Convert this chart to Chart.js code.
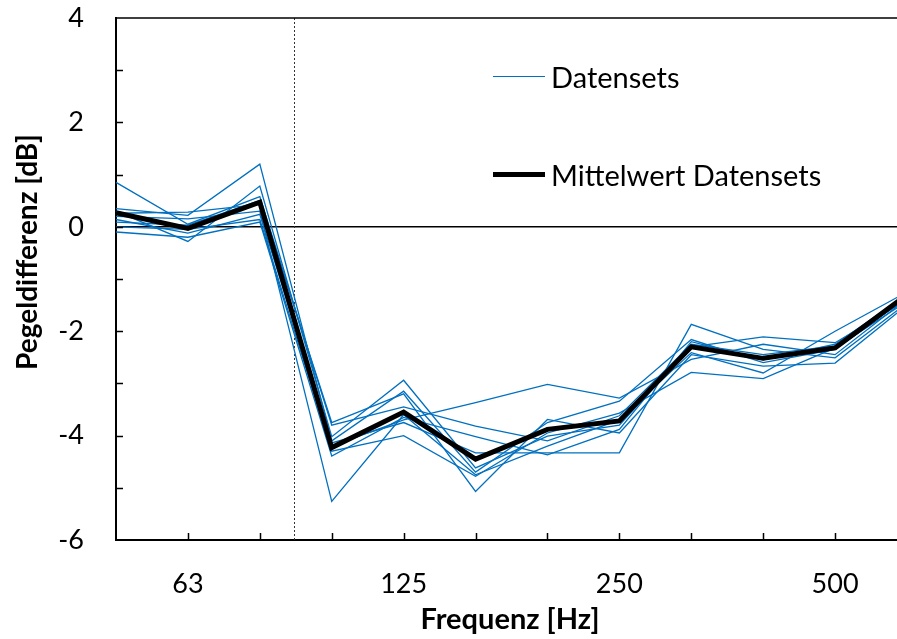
<!DOCTYPE html>
<html>
<head>
<meta charset="utf-8">
<script src="https://cdn.jsdelivr.net/npm/chart.js@4.4.1/dist/chart.umd.min.js"></script>
<style>
html, body { margin: 0; padding: 0; background: #fff; overflow: hidden; }
#wrap { position: relative; width: 897px; height: 639px; overflow: hidden; }
#wrap canvas { position: absolute; left: 0; top: 0; }
.leg { position: absolute; font-family: Lato, sans-serif; font-size: 29px; color: #000; white-space: nowrap; }
.leg span { display: inline-block; vertical-align: middle; }
</style>
</head>
<body>
<div id="wrap">
  <canvas id="chart" width="920" height="639"></canvas>
  <div class="leg" style="left:493px; top:55px;"><span style="width:52px;border-top:1.3px solid #0070C0;margin-right:6px;"></span><span>Datensets</span></div>
  <div class="leg" style="left:493px; top:153px;"><span style="width:52px;border-top:5px solid #000;margin-right:6px;"></span><span>Mittelwert Datensets</span></div>
</div>
<script>
// Terzbänder
var baender = ['50', '63', '80', '100', '125', '160', '200', '250', '315', '400', '500', '630'];
var beschriftet = ['63', '125', '250', '500'];

// einzelne Datensets (Pegeldifferenz in dB)
var set1 = [0.85, 0.05, 0.58, -3.80, -3.45, -3.82, -4.10, -3.62, -2.25, -2.45, -2.28, -1.33];
var set2 = [0.35, 0.22, 1.20, -4.10, -3.15, -4.70, -3.75, -3.34, -2.16, -2.60, -2.35, -1.36];
var set3 = [0.30, -0.28, 0.78, -4.02, -2.94, -4.62, -4.01, -3.80, -2.30, -2.11, -2.22, -1.40];
var set4 = [0.26, 0.28, 0.43, -4.20, -3.70, -3.37, -3.02, -3.28, -2.54, -2.25, -2.45, -1.38];
var set5 = [0.20, 0.15, 0.30, -5.26, -3.60, -4.75, -4.20, -3.70, -2.41, -2.80, -2.00, -1.25];
var set6 = [0.14, -0.12, 0.24, -4.14, -3.75, -4.33, -4.33, -4.33, -1.87, -2.35, -2.51, -1.46];
var set7 = [0.09, 0.03, 0.50, -3.75, -3.20, -5.07, -3.69, -3.95, -2.45, -2.67, -2.61, -1.50];
var set8 = [0.00, -0.05, 0.14, -4.30, -4.00, -4.78, -3.95, -3.57, -2.79, -2.91, -2.32, -1.43];
var set9 = [-0.10, -0.20, 0.09, -4.39, -3.65, -4.02, -4.37, -3.88, -2.20, -2.55, -2.25, -1.30];
var mittelwert = [0.27, -0.03, 0.47, -4.23, -3.55, -4.45, -3.88, -3.72, -2.30, -2.52, -2.32, -1.30];

// Lage der gestrichelten Linie (zwischen 80 und 100 Hz, in Bandindex)
var grenzeBand = 2.47;

var blau = '#0070C0';
var schrift = 'Lato, sans-serif';

var datasets = [{
    label: 'Mittelwert Datensets',
    data: mittelwert,
    borderColor: '#000',
    borderWidth: 5,
    pointRadius: 0,
    order: 0
}];
[set1, set2, set3, set4, set5, set6, set7, set8, set9].forEach(function (s, i) {
    datasets.push({
        label: 'Datenset ' + (i + 1),
        data: s,
        borderColor: blau,
        borderWidth: 1.3,
        pointRadius: 0,
        order: 1
    });
});

// Rahmen, innenliegende Striche, Achsentitel
var extras = {
    id: 'extras',
    beforeDatasetsDraw: function (chart) {
        var c = chart.ctx, a = chart.chartArea, x = chart.scales.x;
        var px = x.getPixelForValue(2) + (grenzeBand - 2) * (x.getPixelForValue(3) - x.getPixelForValue(2));
        c.save();
        c.strokeStyle = '#333';
        c.lineWidth = 1;
        c.setLineDash([2, 2]);
        c.beginPath();
        c.moveTo(Math.round(px) + 0.5, a.top);
        c.lineTo(Math.round(px) + 0.5, a.bottom);
        c.stroke();
        c.restore();
    },
    afterDraw: function (chart) {
        var c = chart.ctx, a = chart.chartArea, x = chart.scales.x, y = chart.scales.y;
        c.save();
        c.strokeStyle = '#000';
        c.lineWidth = 1.5;
        c.beginPath();
        c.moveTo(a.left, a.top);
        c.lineTo(a.right, a.top);
        c.lineTo(a.right, a.bottom);
        for (var v = -5; v <= 3; v++) {
            var py = Math.round(y.getPixelForValue(v)) + 0.5;
            c.moveTo(a.left, py);
            c.lineTo(a.left + 7, py);
        }
        for (var i = 1; i < baender.length; i++) {
            var px = Math.round(x.getPixelForValue(i)) + 0.5;
            c.moveTo(px, a.bottom);
            c.lineTo(px, a.bottom - 7);
        }
        c.stroke();

        c.fillStyle = '#000';
        c.font = 'bold 29px ' + schrift;
        c.textAlign = 'center';
        c.textBaseline = 'middle';
        c.fillText('Frequenz [Hz]', 510, 620);
        c.font = 'bold 28px ' + schrift;
        c.translate(28, 252);
        c.rotate(-Math.PI / 2);
        c.fillText('Pegeldifferenz [dB]', 0, 0);
        c.restore();
    }
};

new Chart(document.getElementById('chart'), {
    type: 'line',
    data: { labels: baender, datasets: datasets },
    options: {
        responsive: false,
        animation: false,
        layout: { padding: { top: 18, right: 13, left: 0, bottom: 0 } },
        plugins: { legend: { display: false }, tooltip: { enabled: false } },
        elements: { line: { tension: 0, borderCapStyle: 'butt', borderJoinStyle: 'miter' } },
        scales: {
            x: {
                offset: false,
                afterFit: function (s) { s.height = 99; s.paddingLeft = 0; s.paddingRight = 0; },
                grid: { display: false, drawTicks: false },
                border: { color: '#000', width: 2 },
                ticks: {
                    autoSkip: false,
                    maxRotation: 0,
                    padding: 28,
                    color: '#000',
                    font: { family: schrift, size: 27 },
                    callback: function (v) {
                        var l = baender[v];
                        return beschriftet.indexOf(l) >= 0 ? l : '';
                    }
                }
            },
            y: {
                min: -6,
                max: 4,
                afterFit: function (s) { s.width = 116; s.paddingTop = 0; s.paddingBottom = 0; },
                grid: {
                    drawTicks: false,
                    color: function (ctx) { return ctx.tick && ctx.tick.value === 0 ? '#000' : 'rgba(0,0,0,0)'; },
                    lineWidth: 1.5
                },
                border: { color: '#000', width: 2 },
                ticks: {
                    stepSize: 1,
                    padding: 32,
                    color: '#000',
                    font: { family: schrift, size: 27 },
                    callback: function (v) { return v % 2 === 0 ? String(v) : ''; }
                }
            }
        }
    },
    plugins: [extras]
});
</script>
</body>
</html>
